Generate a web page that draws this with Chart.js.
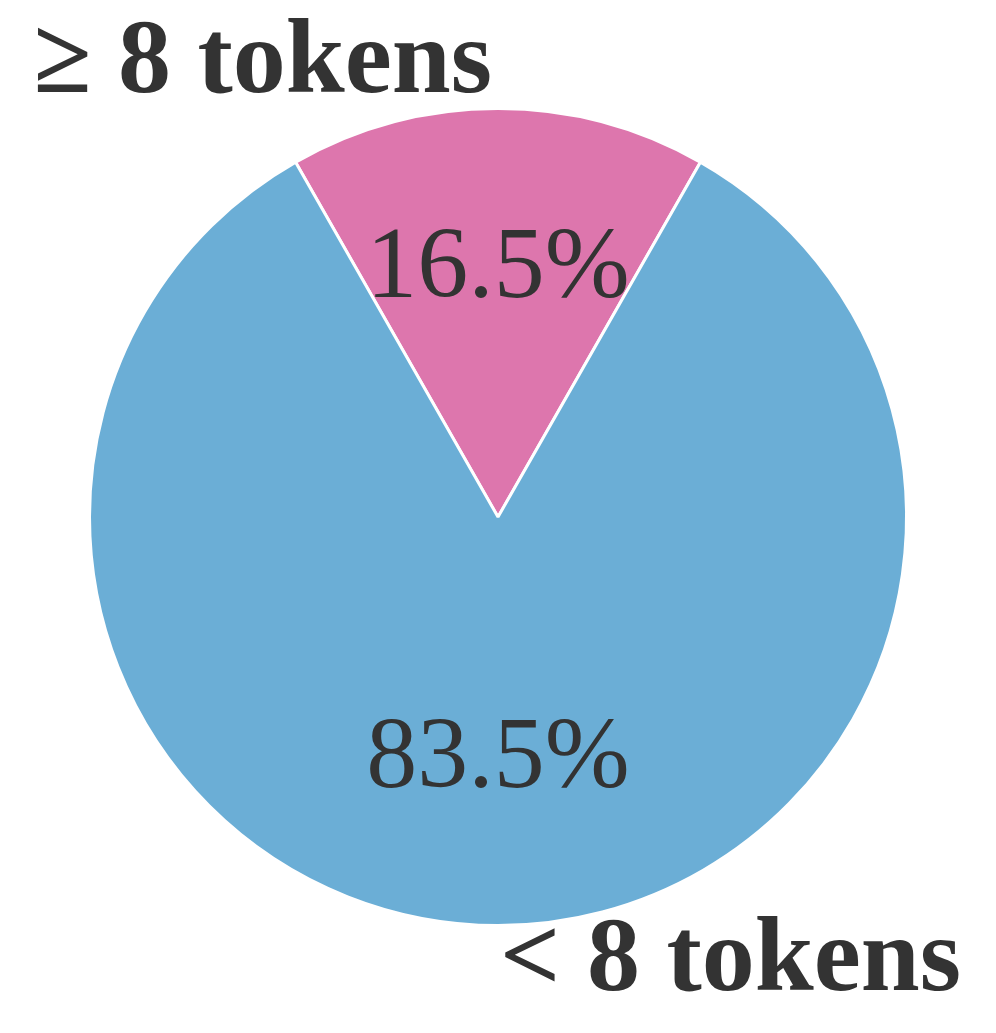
<!DOCTYPE html>
<html>
<head>
<meta charset="utf-8">
<script src="https://cdn.jsdelivr.net/npm/chart.js@4.4.1/dist/chart.umd.min.js"></script>
<style>
  html, body { margin: 0; padding: 0; background: #ffffff; }
  #wrap { width: 996px; height: 1033px; position: relative; }
</style>
</head>
<body>
<div id="wrap"><canvas id="c" width="996" height="1033"></canvas></div>
<script>
const categories = ["\u2265 8 tokens", "< 8 tokens"];
const shares = [16.5, 83.5];
const pctLabels = ["16.5%", "83.5%"];
const sliceColors = ["#dd76ad", "#6baed6"];

const labelPlugin = {
  id: 'pieLabels',
  afterDatasetsDraw(chart) {
    const ctx = chart.ctx;
    const meta = chart.getDatasetMeta(0);
    ctx.save();
    ctx.fillStyle = '#333333';
    meta.data.forEach((arc, i) => {
      const p = arc.getProps(['x', 'y', 'startAngle', 'endAngle', 'outerRadius'], true);
      const mid = (p.startAngle + p.endAngle) / 2;
      const c = Math.cos(mid), s = Math.sin(mid);
      // percentage at 0.6 R
      ctx.font = '102px "Liberation Serif", "Times New Roman", serif';
      ctx.textAlign = 'center';
      ctx.textBaseline = 'alphabetic';
      const px = p.x + c * p.outerRadius * 0.6;
      const py = p.y + s * p.outerRadius * 0.6;
      ctx.fillText(pctLabels[i], px, py + 25);
      // category label at 1.1 R
      ctx.font = 'bold 106px "Liberation Serif", "Times New Roman", serif';
      const lx = p.x + c * p.outerRadius * 1.1;
      const ly = p.y + s * p.outerRadius * 1.1;
      if (i === 0) {
        ctx.textAlign = 'right';
        ctx.fillText(categories[i], lx - 6, ly + 24);
      } else {
        ctx.textAlign = 'left';
        ctx.fillText(categories[i], lx + 2, ly + 24);
      }
    });
    ctx.restore();
  }
};

new Chart(document.getElementById('c'), {
  type: 'pie',
  data: {
    labels: categories,
    datasets: [{
      data: shares,
      backgroundColor: sliceColors,
      borderColor: '#ffffff',
      borderWidth: 3
    }]
  },
  options: {
    responsive: false,
    animation: false,
    rotation: -shares[0] * 360 / 100 / 2,
    layout: { padding: { left: 88, right: 88, top: 107, bottom: 106 } },
    plugins: {
      legend: { display: false },
      tooltip: { enabled: false }
    }
  },
  plugins: [labelPlugin]
});
</script>
</body>
</html>
